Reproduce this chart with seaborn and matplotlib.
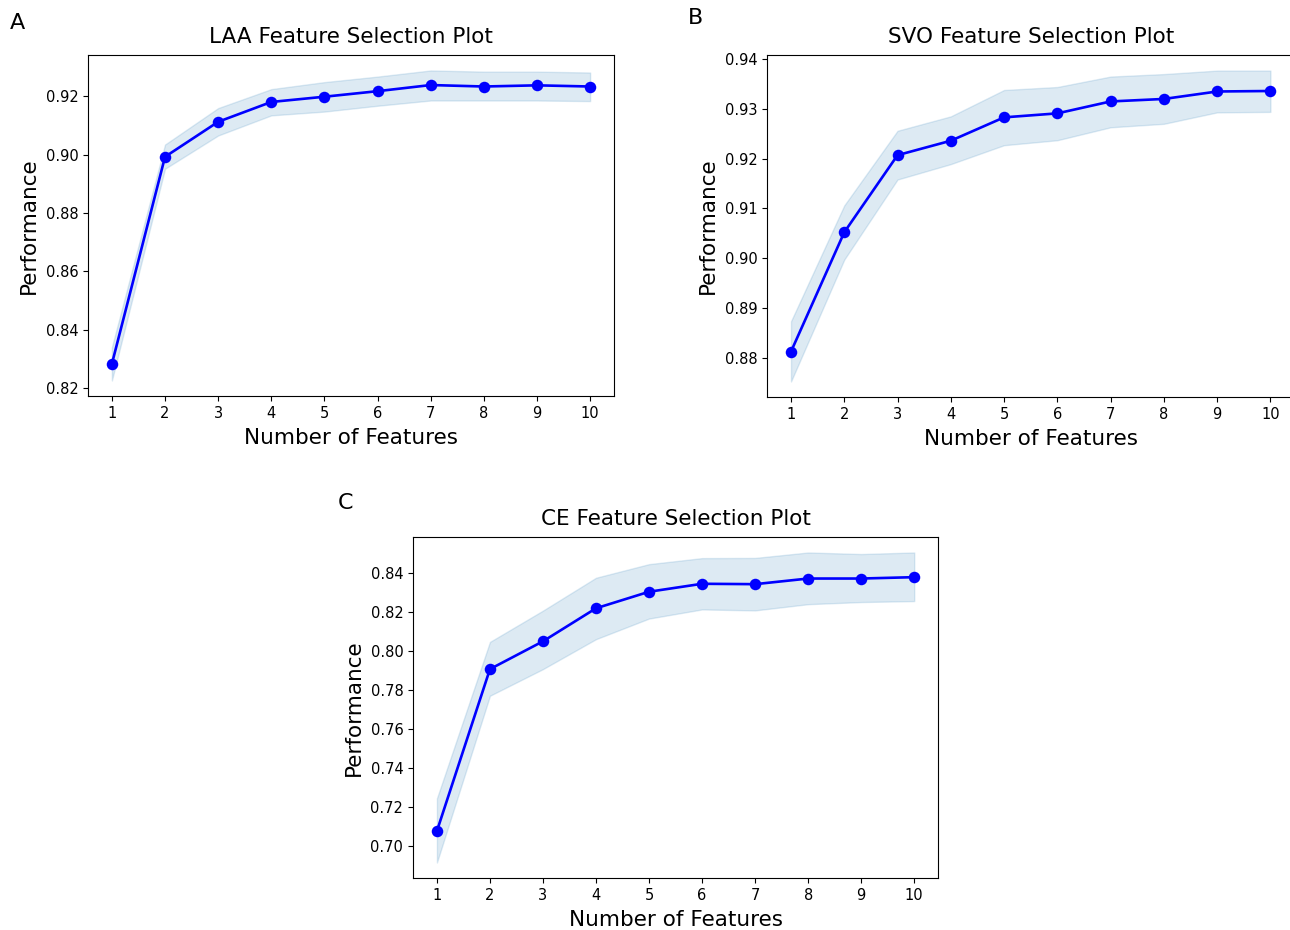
import matplotlib
import matplotlib.pyplot as plt
import seaborn as sns

matplotlib.use("Agg")

# number of features on the x axis (same for every panel)
features = [1, 2, 3, 4, 5, 6, 7, 8, 9, 10]

# LAA panel
laa_mean = [0.8283, 0.8993, 0.9113, 0.9181, 0.9199, 0.9218, 0.9239, 0.9234, 0.9238, 0.9234]
laa_lower = [0.8226, 0.8952, 0.9066, 0.9135, 0.9148, 0.9168, 0.9186, 0.9186, 0.9186, 0.9184]
laa_upper = [0.8340, 0.9035, 0.9160, 0.9225, 0.9249, 0.9268, 0.9289, 0.9285, 0.9285, 0.9282]

# SVO panel
svo_mean = [0.8812, 0.9052, 0.9207, 0.9236, 0.9283, 0.9291, 0.9315, 0.9320, 0.9335, 0.9336]
svo_lower = [0.8752, 0.8997, 0.9158, 0.9189, 0.9227, 0.9237, 0.9263, 0.9270, 0.9293, 0.9294]
svo_upper = [0.8873, 0.9106, 0.9256, 0.9285, 0.9338, 0.9344, 0.9365, 0.9370, 0.9377, 0.9377]

# CE panel
ce_mean = [0.7075, 0.7908, 0.8051, 0.8221, 0.8306, 0.8347, 0.8345, 0.8374, 0.8374, 0.8381]
ce_lower = [0.6913, 0.7771, 0.7908, 0.8062, 0.8168, 0.8215, 0.8210, 0.8242, 0.8253, 0.8258]
ce_upper = [0.7243, 0.8048, 0.8209, 0.8378, 0.8448, 0.8479, 0.8480, 0.8508, 0.8500, 0.8508]

panels = [
    ("A", "LAA Feature Selection Plot", laa_mean, laa_lower, laa_upper),
    ("B", "SVO Feature Selection Plot", svo_mean, svo_lower, svo_upper),
    ("C", "CE Feature Selection Plot", ce_mean, ce_lower, ce_upper),
]

# panel B runs slightly past the right edge, as in the source figure
axes_rects = [
    [0.0682, 0.5742, 0.4078, 0.3667],
    [0.5946, 0.5731, 0.4088, 0.3677],
    [0.3202, 0.0559, 0.4070, 0.3667],
]
letter_pos = [(0.0078, 0.975), (0.533, 0.9806), (0.262, 0.459)]

fig = plt.figure(figsize=(12.9, 9.3), dpi=100)

for (letter, title, mean, lower, upper), rect, (lx, ly) in zip(panels, axes_rects, letter_pos):
    ax = fig.add_axes(rect)
    ax.fill_between(features, lower, upper, color="#1f77b4", alpha=0.15, linewidth=1)
    sns.lineplot(x=features, y=mean, ax=ax, color="blue", marker="o",
                 markersize=8.3, markeredgewidth=0, linewidth=1.9)
    ax.set_xticks(features)
    ax.set_title(title, fontsize=15.5, pad=8.5)
    ax.set_xlabel("Number of Features", fontsize=15.5, labelpad=5.5)
    ax.set_ylabel("Performance", fontsize=15.5, labelpad=5)
    ax.tick_params(labelsize=10.5)
    fig.text(lx, ly, letter, fontsize=16, va="center", ha="left")

fig.savefig("out.png", dpi=100)
